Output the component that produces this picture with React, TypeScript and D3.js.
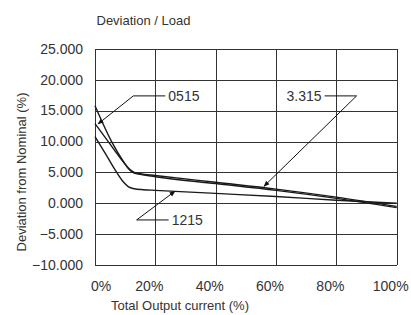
import React, { useRef, useEffect } from "react";
import * as d3 from "d3";

// values
const load0515 = [0, 4.4, 9.4, 11.5, 13, 15, 20, 40, 60, 80, 100];
const dev0515 = [12.9, 10.0, 6.7, 5.5, 5.0, 4.8, 4.5, 3.4, 2.3, 1.0, -0.5];

const load3315 = [0, 5.5, 9.4, 11.5, 13, 15, 20, 40, 60, 80, 100];
const dev3315 = [15.8, 10.0, 6.8, 5.4, 4.9, 4.7, 4.3, 3.2, 2.1, 0.8, -0.7];

const load1215 = [0, 3.5, 7.2, 9.5, 11, 13, 16, 20, 40, 60, 80, 100];
const dev1215 = [10.8, 8.0, 5.0, 3.4, 2.7, 2.35, 2.2, 2.1, 1.6, 1.1, 0.5, 0.0];

const xTicks = [0, 20, 40, 60, 80, 100];
const yTicks = [25, 20, 15, 10, 5, 0, -5, -10];

// callouts: label, arrow tip (x, y), elbow (x, y), side of the label
const calloutLabels = ["0515", "3.315", "1215"];
const calloutTip = [[1, 12.85], [56, 2.75], [26.5, 1.95]];
const calloutElbow = [[12.7, 17.4], [86.7, 17.4], [13.8, -2.7]];
const calloutSide = ["right", "left", "right"];

const FONT = "'Liberation Sans', Arial, Helvetica, sans-serif";

const DeviationChart = () => {
  const ref = useRef<SVGSVGElement | null>(null);

  const draw = (elt: SVGSVGElement) => {
    const svg = d3.select(elt);
    svg.selectAll("*").remove();

    const x = d3.scaleLinear().domain([0, 100]).range([95, 396.7]);
    const y = d3.scaleLinear().domain([-10, 25]).range([265, 49]);

    svg.append("defs")
      .append("marker")
      .attr("id", "arr")
      .attr("viewBox", "0 0 10 10")
      .attr("refX", 9)
      .attr("refY", 5)
      .attr("markerWidth", 6)
      .attr("markerHeight", 6)
      .attr("markerUnits", "userSpaceOnUse")
      .attr("orient", "auto")
      .append("path")
      .attr("d", "M0,1 L10,5 L0,9 z")
      .attr("fill", "#111");

    // grid
    const grid = svg.append("g").attr("shape-rendering", "crispEdges");
    grid.selectAll("line.h")
      .data(yTicks)
      .enter()
      .append("line")
      .attr("x1", x(0))
      .attr("x2", x(100))
      .attr("y1", d => Math.round(y(d)) + 0.5)
      .attr("y2", d => Math.round(y(d)) + 0.5)
      .attr("stroke", "#333")
      .attr("stroke-width", 1);
    grid.selectAll("line.v")
      .data(xTicks)
      .enter()
      .append("line")
      .attr("x1", d => Math.round(x(d)) + 0.5)
      .attr("x2", d => Math.round(x(d)) + 0.5)
      .attr("y1", y(25))
      .attr("y2", y(-10))
      .attr("stroke", "#333")
      .attr("stroke-width", 1);

    // y tick labels
    svg.append("g")
      .selectAll("text")
      .data(yTicks)
      .enter()
      .append("text")
      .attr("x", 83)
      .attr("y", d => y(d) + 1)
      .attr("text-anchor", "end")
      .attr("dominant-baseline", "middle")
      .attr("font-family", FONT)
      .attr("font-size", 14)
      .attr("fill", "#333")
      .text(d => d3.format(".3f")(d));

    // x tick labels
    svg.append("g")
      .selectAll("text")
      .data(xTicks)
      .enter()
      .append("text")
      .attr("x", (d, i) => x(d) + (i === 0 ? 6 : -6))
      .attr("y", 291)
      .attr("text-anchor", "middle")
      .attr("font-family", FONT)
      .attr("font-size", 14)
      .attr("fill", "#333")
      .text(d => d + "%");

    // titles
    svg.append("text")
      .attr("x", 96.5)
      .attr("y", 25)
      .attr("font-family", FONT)
      .attr("font-size", 13)
      .attr("fill", "#333")
      .text("Deviation / Load");

    svg.append("text")
      .attr("x", 180)
      .attr("y", 310)
      .attr("text-anchor", "middle")
      .attr("font-family", FONT)
      .attr("font-size", 13)
      .attr("fill", "#333")
      .text("Total Output current (%)");

    svg.append("text")
      .attr("transform", "translate(25.5,172) rotate(-90)")
      .attr("text-anchor", "middle")
      .attr("font-family", FONT)
      .attr("font-size", 13)
      .attr("fill", "#333")
      .text("Deviation from Nominal (%)");

    // curves
    const line = d3.line<[number, number]>()
      .x(d => x(d[0]))
      .y(d => y(d[1]))
      .curve(d3.curveMonotoneX);

    const series = [
      d3.zip(load0515, dev0515),
      d3.zip(load3315, dev3315),
      d3.zip(load1215, dev1215),
    ] as [number, number][][];

    svg.append("g")
      .selectAll("path")
      .data(series)
      .enter()
      .append("path")
      .attr("d", d => line(d))
      .attr("fill", "none")
      .attr("stroke", "#1a1a1a")
      .attr("stroke-width", 1.4);

    // callouts
    const co = svg.append("g");
    calloutLabels.forEach((lab, i) => {
      const [tx, ty] = calloutTip[i];
      const [ex, ey] = calloutElbow[i];
      const dir = calloutSide[i] === "right" ? 1 : -1;
      const ex2 = x(ex) + dir * 32;
      co.append("line")
        .attr("x1", x(ex))
        .attr("y1", y(ey))
        .attr("x2", ex2)
        .attr("y2", y(ey))
        .attr("stroke", "#111")
        .attr("stroke-width", 1);
      co.append("line")
        .attr("x1", x(ex))
        .attr("y1", y(ey))
        .attr("x2", x(tx))
        .attr("y2", y(ty))
        .attr("stroke", "#111")
        .attr("stroke-width", 1)
        .attr("marker-end", "url(#arr)");
      co.append("text")
        .attr("x", ex2 + dir * 3)
        .attr("y", y(ey) + 1)
        .attr("text-anchor", dir === 1 ? "start" : "end")
        .attr("dominant-baseline", "middle")
        .attr("font-family", FONT)
        .attr("font-size", 14)
        .attr("fill", "#333")
        .text(lab);
    });
  };

  useEffect(() => {
    if (ref.current) {
      draw(ref.current);
    }
  }, []);

  return (
    <svg
      ref={ref}
      width={411}
      height={315}
      style={{ position: "absolute", left: 0, top: 0, background: "#fff" }}
    />
  );
};

export default function App() {
  return <DeviationChart />;
}
